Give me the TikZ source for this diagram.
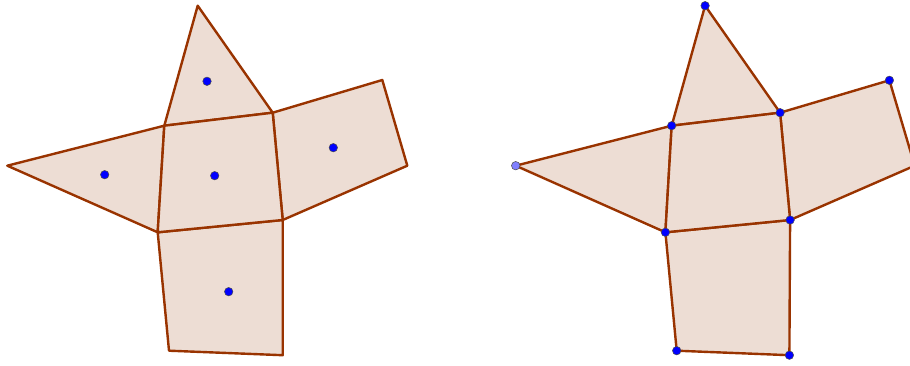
\documentclass[tikz,border=0pt]{standalone}
\definecolor{edgebrown}{HTML}{993300}
\definecolor{facefill}{HTML}{EDDDD4}
\definecolor{ptblue}{HTML}{0000FF}
\definecolor{ptlight}{HTML}{7F7FFF}
\tikzset{
  face/.style={fill=facefill, draw=edgebrown, line width=2.4pt, line join=round},
  pt/.style={circle, fill=ptblue, draw=black!70, line width=0.5pt, inner sep=0pt, minimum size=8.5pt},
  ptl/.style={pt, fill=ptlight},
}
\begin{document}
\begin{tikzpicture}[x=1pt,y=-1pt]
\useasboundingbox (0,0) rectangle (910,366);
\clip (0,0) rectangle (910,366);
% ---------- left net ----------
\begin{scope}
\coordinate (T) at (197.7,5.7);
\coordinate (A) at (164.3,125.7);
\coordinate (B) at (272.7,112.7);
\coordinate (C) at (282.7,220);
\coordinate (D) at (157.7,232.3);
\coordinate (L) at (7.3,165.7);
\coordinate (R1) at (382.3,80);
\coordinate (R2) at (407.3,165.7);
\coordinate (B1) at (282.7,355.2);
\coordinate (B2) at (169,350.7);
\draw[face] (T) -- (B) -- (A) -- cycle;
\draw[face] (L) -- (A) -- (D) -- cycle;
\draw[face] (B) -- (R1) -- (R2) -- (C) -- cycle;
\draw[face] (D) -- (C) -- (B1) -- (B2) -- cycle;
\draw[face] (A) -- (B) -- (C) -- (D) -- cycle;
\node[pt] (g1) at (207,81.3) {};
\node[pt] (g2) at (104.7,174.7) {};
\node[pt] (g3) at (214.7,175.7) {};
\node[pt] (g4) at (333.3,147.7) {};
\node[pt] (g5) at (228.7,291.7) {};
\end{scope}
% ---------- right net ----------
\begin{scope}[xshift=507.4pt]
\coordinate (T') at (197.7,5.7);
\coordinate (A') at (164.3,125.7);
\coordinate (B') at (272.7,112.7);
\coordinate (C') at (282.7,220);
\coordinate (D') at (158,232.3);
\coordinate (L') at (8.3,165.7);
\coordinate (R1') at (382,80.3);
\coordinate (R2') at (407.3,165.7);
\coordinate (B1') at (282,355.2);
\coordinate (B2') at (169.3,350.7);
\draw[face] (T') -- (B') -- (A') -- cycle;
\draw[face] (L') -- (A') -- (D') -- cycle;
\draw[face] (B') -- (R1') -- (R2') -- (C') -- cycle;
\draw[face] (D') -- (C') -- (B1') -- (B2') -- cycle;
\draw[face] (A') -- (B') -- (C') -- (D') -- cycle;
\node[pt] (vT) at (T') {};
\node[pt] (vA) at (A') {};
\node[pt] (vB) at (B') {};
\node[pt] (vC) at (C') {};
\node[pt] (vD) at (D') {};
\node[ptl] (vL) at (L') {};
\node[pt] (vR1) at (R1') {};
\node[pt] (vB1) at (B1') {};
\node[pt] (vB2) at (B2') {};
\end{scope}
\end{tikzpicture}
\end{document}
